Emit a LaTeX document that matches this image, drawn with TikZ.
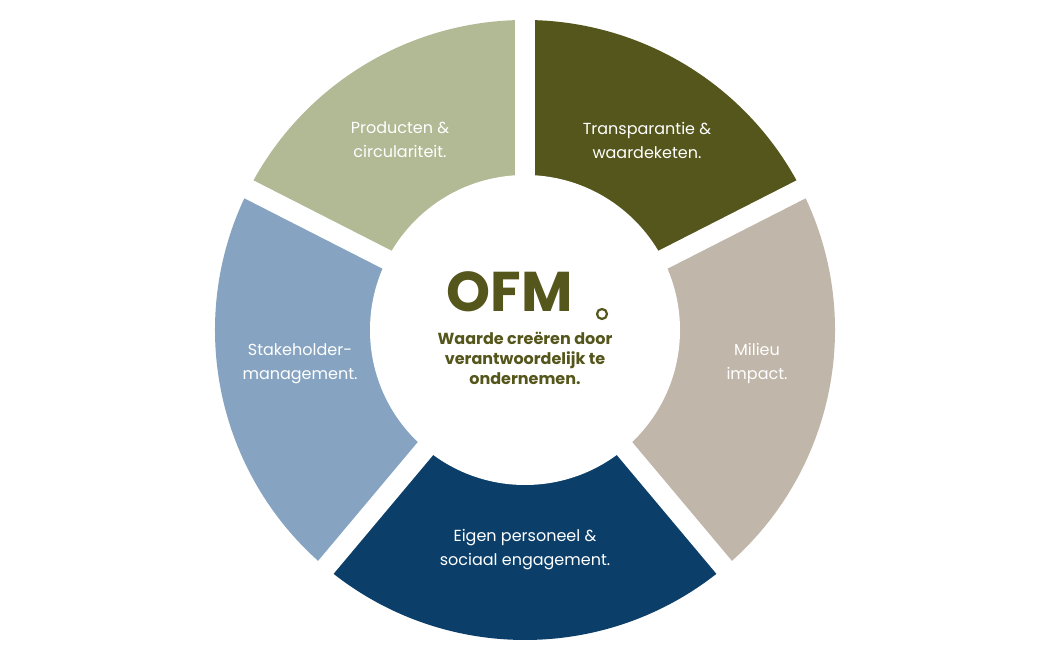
\documentclass[tikz,border=0pt]{standalone}
\usetikzlibrary{calc}
\usepackage{fontspec}
\setmainfont{Poppins}
\begin{document}
\begin{tikzpicture}[x=1pt,y=1pt,
  lab/.style={text=white,align=center,font=\fontsize{16}{24}\selectfont},
  seg/.style={}]
\definecolor{cA}{HTML}{B1B995}\definecolor{cB}{HTML}{55561C}
\definecolor{cC}{HTML}{C0B6A9}\definecolor{cD}{HTML}{0B3F69}
\definecolor{cE}{HTML}{86A4C1}
\useasboundingbox[fill=white] (0,0) rectangle (1050,660);
\coordinate (c) at (525,330);
\def\R{310}\def\r{150}
\foreach \a/\b/\col in {90/153/cA,27/90/cB,-50/27/cC,-130/-50/cD,153/230/cE}{
  \fill[\col] ($(c)+(\a:\R)$) arc[start angle=\a,end angle=\b,radius=\R]
    -- ($(c)+(\b:\r)$) arc[start angle=\b,end angle=\a,radius=\r] -- cycle;}
\foreach \a in {90,27,-50,-130,153}{\draw[white,line width=20] (c) -- ++(\a:330);}
\fill[white] (c) circle[radius=155];
\node[font=\bfseries\fontsize{56}{56}\selectfont,text=cB] (t) at (510,368) {OFM};
\draw[cB,line width=2.2] (602,346) circle[radius=5];
\node[font=\bfseries\fontsize{16}{20}\selectfont,text=cB,align=center] (s) at (525,302) {Waarde creëren door\\verantwoordelijk te\\ondernemen.};
\node[lab] (l1) at (400,520) {Producten \&\\circulariteit.};
\node[lab] (l2) at (647,520) {Transparantie \&\\waardeketen.};
\node[lab] (l3) at (757,296) {Milieu\\impact.};
\node[lab] (l4) at (300,296) {Stakeholder-\\management.};
\node[lab] (l5) at (525,110) {Eigen personeel \&\\sociaal engagement.};
\end{tikzpicture}
\end{document}
